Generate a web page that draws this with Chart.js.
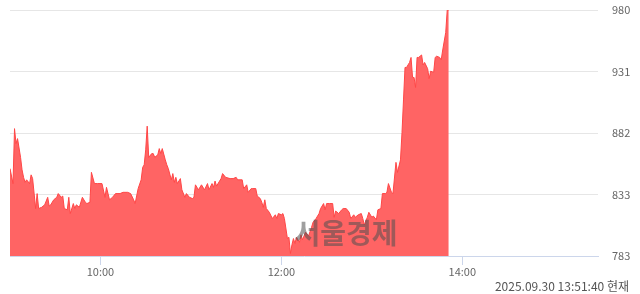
<!DOCTYPE html>
<html><head><meta charset="utf-8">
<script src="https://cdn.jsdelivr.net/npm/chart.js@4.4.1/dist/chart.umd.min.js"></script>
<style>html,body{margin:0;padding:0;background:#fff;overflow:hidden}#wrap{position:relative;width:640px;height:294px}</style>
</head><body><div id="wrap"><canvas id="c" width="640" height="294"></canvas></div>
<script>
const times = ["09:00","09:02","09:03","09:04","09:05","09:07","09:08","09:09","09:10","09:11","09:13","09:14","09:15","09:17","09:18","09:19","09:21","09:23","09:25","09:26","09:27","09:29","09:31","09:32","09:34","09:35","09:36","09:38","09:39","09:40","09:42","09:43","09:44","09:46","09:48","09:50","09:51","09:53","09:54","09:56","09:58",
"10:01","10:03","10:04","10:06","10:08","10:10","10:11","10:13","10:15","10:18","10:20","10:22","10:23","10:25","10:27","10:28","10:29","10:30","10:31","10:32","10:34","10:35","10:36","10:38","10:39","10:40","10:41","10:43","10:44","10:45","10:47","10:48","10:49","10:50","10:51","10:53","10:54","10:56","10:57","10:59",
"11:01","11:02","11:03","11:04","11:05","11:07","11:09","11:11","11:12","11:14","11:15","11:16","11:17","11:19","11:20","11:21","11:23","11:26","11:28","11:30","11:31","11:34","11:35","11:37","11:38","11:40","11:41","11:43","11:44","11:46","11:47","11:48","11:49","11:50","11:52","11:54","11:56","11:57","11:58",
"12:00","12:01","12:02","12:04","12:05","12:06","12:07","12:08","12:09","12:10","12:12","12:13","12:14","12:16","12:18","12:20","12:21","12:23","12:25","12:26","12:28","12:29","12:30","12:32","12:34","12:35","12:36","12:38","12:40","12:41","12:43","12:45","12:46","12:48","12:49","12:51","12:53","12:54","12:55","12:57","12:58",
"13:00","13:01","13:03","13:04","13:06","13:07","13:09","13:10","13:11","13:13","13:14","13:16","13:17","13:19","13:20","13:21","13:22","13:23","13:25","13:26","13:27","13:28","13:29","13:30","13:31","13:33","13:34","13:35","13:37","13:38","13:39","13:41","13:42","13:43","13:45","13:46","13:47","13:49","13:50","13:51"];
const prices = [853,841,885,873,877,862,852,846,842,844,841,848,845,821,833,821,822,824,830,823,824,828,830,833,830,831,821,820,830,817,825,821,824,822,830,826,825,826,850,841,841,
841,830,838,828,830,833,833,833,834,834,833,828,825,837,844,854,856,868,887,862,865,865,862,864,869,865,869,860,856,853,844,849,842,846,841,845,836,830,833,830,
829,830,840,838,836,840,836,841,836,841,838,843,839,843,845,849,846,845,845,846,844,844,837,840,834,837,837,837,831,829,826,822,828,821,818,813,816,813,817,
816,817,813,797,798,785,792,797,793,798,794,800,796,802,799,806,810,813,817,821,825,820,825,825,825,814,819,817,820,821,821,818,813,816,814,816,817,813,808,814,818,
814,815,812,820,821,833,833,834,841,834,833,858,850,860,882,908,934,934,938,942,926,926,918,942,942,944,936,938,933,925,931,930,942,943,942,940,948,962,980,980];
const yTickLabels = ["783","833","882","931","980"];
const xTickLabels = ["10:00","12:00","14:00"];
const sessionStart = "09:00";
const sessionEnd = "15:30";
const yMin = 783, yMax = 980;
const footerText = "2025.09.30 13:51:40 현재";
const watermarkText = "서울경제";

function toMin(s){const p=s.split(":");return (+p[0])*60+(+p[1]);}
const t0 = toMin(sessionStart);
const points = times.map((t,i)=>({x:toMin(t)-t0,y:prices[i]}));

const FONT = '"Noto Sans CJK KR", "Noto Sans", sans-serif';

const overlay = {
  id:'overlay',
  afterDatasetsDraw(chart){
    const ctx = chart.ctx;
    ctx.save();
    ctx.font = 'bold 28px ' + FONT;
    ctx.fillStyle = 'rgba(80,80,80,0.55)';
    ctx.textAlign = 'center';
    ctx.textBaseline = 'middle';
    ctx.fillText(watermarkText, 346, 233);
    ctx.restore();
  },
  afterDraw(chart){
    const ctx = chart.ctx;
    ctx.save();
    ctx.font = '12px ' + FONT;
    ctx.fillStyle = '#555';
    ctx.textAlign = 'right';
    ctx.textBaseline = 'middle';
    ctx.fillText(footerText, 629, 286);
    ctx.restore();
  }
};

new Chart(document.getElementById('c'), {
  type:'line',
  data:{datasets:[{
    data:points,
    borderColor:'#ff4646',
    backgroundColor:'#ff6464',
    borderWidth:1,
    pointRadius:0,
    fill:'start',
    tension:0
  }]},
  options:{
    responsive:false,
    animation:false,
    layout:{padding:{left:10,top:10,right:0,bottom:0}},
    plugins:{legend:{display:false},tooltip:{enabled:false}},
    scales:{
      x:{
        type:'linear',
        min:0,
        max:toMin(sessionEnd)-t0,
        afterBuildTicks(scale){scale.ticks = xTickLabels.map(l=>({value:toMin(l)-t0}));},
        afterFit(scale){scale.height = 38;},
        ticks:{
          autoSkip:false,maxRotation:0,padding:0,
          color:'#666',font:{family:FONT,size:11},
          callback(v,i){return xTickLabels[i];}
        },
        grid:{drawOnChartArea:false,drawTicks:true,tickLength:9,color:'#ccd6eb',tickColor:'#ccd6eb'},
        border:{display:true,color:'#ccd6eb',width:1}
      },
      y:{
        position:'right',
        min:yMin,max:yMax,
        afterBuildTicks(scale){scale.ticks = yTickLabels.map((l,i)=>({value:yMin+i*(yMax-yMin)/(yTickLabels.length-1)}));},
        afterFit(scale){scale.width = 42;},
        ticks:{
          padding:0,color:'#666',font:{family:FONT,size:11},
          callback(v,i){return yTickLabels[i];}
        },
        grid:{drawTicks:true,tickLength:14,tickColor:'rgba(0,0,0,0)',color:(c)=>c.index===0?'rgba(0,0,0,0)':'#e6e6e6'},
        border:{display:false}
      }
    }
  },
  plugins:[overlay]
});
</script></body></html>
